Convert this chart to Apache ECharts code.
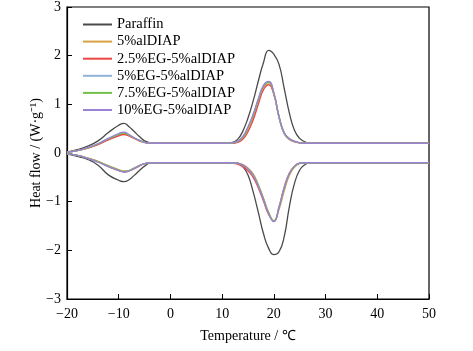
<!DOCTYPE html>
<html lang="en">
<head>
    <meta charset="UTF-8">
    <title>DSC curves</title>
    <script src="https://cdn.jsdelivr.net/npm/echarts@6/dist/echarts.min.js"></script>
    <style>
        html, body { margin: 0; padding: 0; background: #fff; }
    </style>
</head>
<body>
    <div id="main" style="width: 473px;height:351px;"></div>
    <script type="text/javascript">
        var myChart = echarts.init(document.getElementById('main'));

        // temperature points (℃), shared by every curve
        var temps = [-20, -18, -16, -14, -12, -10, -9, -8, -7, -6, -5, -4, -3, 0, 5, 10, 12, 13, 14, 15, 16, 17, 18, 19, 20, 21, 22, 23, 24, 25, 26, 27, 28, 30, 40, 50];

        var names = ['Paraffin', '5%alDIAP', '2.5%EG-5%alDIAP', '5%EG-5%alDIAP', '7.5%EG-5%alDIAP', '10%EG-5%alDIAP'];
        var colors = ['#4a4a4a', '#d9a040', '#ec4545', '#8fb4d8', '#74c04c', '#9b82d4'];

        // heating (upper) curves
        var heatParaffin = [0.02, 0.07, 0.14, 0.25, 0.42, 0.57, 0.61, 0.54, 0.44, 0.34, 0.25, 0.21, 0.2, 0.2, 0.2, 0.2, 0.22, 0.28, 0.45, 0.72, 1.07, 1.48, 1.86, 2.11, 2.03, 1.82, 1.33, 0.82, 0.46, 0.3, 0.23, 0.2, 0.2, 0.2, 0.2, 0.2];
        var heat5al = [0.02, 0.05, 0.1, 0.18, 0.28, 0.36, 0.39, 0.35, 0.3, 0.25, 0.22, 0.2, 0.2, 0.2, 0.2, 0.2, 0.21, 0.23, 0.31, 0.5, 0.74, 1.06, 1.35, 1.42, 1.2, 0.74, 0.41, 0.29, 0.24, 0.21, 0.2, 0.2, 0.2, 0.2, 0.2, 0.2];
        var heat25EG = [0.02, 0.05, 0.1, 0.17, 0.27, 0.35, 0.38, 0.35, 0.3, 0.25, 0.22, 0.2, 0.2, 0.2, 0.2, 0.2, 0.2, 0.22, 0.28, 0.44, 0.68, 1.0, 1.3, 1.4, 1.2, 0.73, 0.4, 0.28, 0.23, 0.21, 0.2, 0.2, 0.2, 0.2, 0.2, 0.2];
        var heat5EG = [0.02, 0.05, 0.11, 0.19, 0.3, 0.39, 0.42, 0.37, 0.31, 0.26, 0.22, 0.2, 0.2, 0.2, 0.2, 0.2, 0.21, 0.24, 0.33, 0.53, 0.78, 1.1, 1.38, 1.46, 1.22, 0.73, 0.39, 0.29, 0.24, 0.21, 0.2, 0.2, 0.2, 0.2, 0.2, 0.2];
        var heat75EG = [0.02, 0.05, 0.11, 0.19, 0.29, 0.38, 0.41, 0.37, 0.31, 0.26, 0.22, 0.2, 0.2, 0.2, 0.2, 0.2, 0.21, 0.24, 0.32, 0.52, 0.77, 1.09, 1.37, 1.45, 1.23, 0.75, 0.41, 0.29, 0.24, 0.21, 0.2, 0.2, 0.2, 0.2, 0.2, 0.2];
        var heat10EG = [0.02, 0.05, 0.11, 0.19, 0.3, 0.4, 0.43, 0.38, 0.31, 0.26, 0.22, 0.2, 0.2, 0.2, 0.2, 0.2, 0.21, 0.24, 0.34, 0.54, 0.8, 1.12, 1.39, 1.47, 1.24, 0.76, 0.42, 0.3, 0.24, 0.21, 0.2, 0.2, 0.2, 0.2, 0.2, 0.2];

        // cooling (lower) curves
        var coolParaffin = [-0.02, -0.07, -0.13, -0.25, -0.45, -0.56, -0.59, -0.55, -0.46, -0.36, -0.27, -0.21, -0.2, -0.2, -0.2, -0.2, -0.2, -0.21, -0.28, -0.45, -0.8, -1.22, -1.66, -1.96, -2.09, -2.03, -1.72, -1.1, -0.62, -0.35, -0.24, -0.2, -0.2, -0.2, -0.2, -0.2];
        var cool5al = [-0.02, -0.05, -0.1, -0.17, -0.26, -0.34, -0.37, -0.36, -0.31, -0.26, -0.22, -0.2, -0.2, -0.2, -0.2, -0.2, -0.2, -0.21, -0.24, -0.31, -0.43, -0.65, -0.93, -1.22, -1.39, -1.16, -0.78, -0.46, -0.29, -0.22, -0.2, -0.2, -0.2, -0.2, -0.2, -0.2];
        var cool25EG = [-0.02, -0.05, -0.11, -0.18, -0.28, -0.36, -0.39, -0.37, -0.32, -0.27, -0.22, -0.2, -0.2, -0.2, -0.2, -0.2, -0.21, -0.23, -0.28, -0.37, -0.5, -0.72, -0.99, -1.27, -1.4, -1.1, -0.7, -0.41, -0.27, -0.21, -0.2, -0.2, -0.2, -0.2, -0.2, -0.2];
        var cool5EG = [-0.02, -0.05, -0.11, -0.18, -0.27, -0.35, -0.38, -0.36, -0.31, -0.26, -0.22, -0.2, -0.2, -0.2, -0.2, -0.2, -0.2, -0.21, -0.25, -0.33, -0.45, -0.68, -0.95, -1.24, -1.41, -1.12, -0.72, -0.42, -0.27, -0.21, -0.2, -0.2, -0.2, -0.2, -0.2, -0.2];
        var cool75EG = [-0.02, -0.05, -0.11, -0.18, -0.27, -0.35, -0.38, -0.36, -0.31, -0.26, -0.22, -0.2, -0.2, -0.2, -0.2, -0.2, -0.2, -0.21, -0.25, -0.33, -0.45, -0.67, -0.94, -1.23, -1.4, -1.13, -0.73, -0.43, -0.28, -0.21, -0.2, -0.2, -0.2, -0.2, -0.2, -0.2];
        var cool10EG = [-0.02, -0.05, -0.11, -0.19, -0.28, -0.36, -0.39, -0.37, -0.32, -0.26, -0.22, -0.2, -0.2, -0.2, -0.2, -0.2, -0.2, -0.21, -0.25, -0.33, -0.46, -0.69, -0.96, -1.25, -1.41, -1.12, -0.72, -0.42, -0.27, -0.21, -0.2, -0.2, -0.2, -0.2, -0.2, -0.2];

        var heating = [heatParaffin, heat5al, heat25EG, heat5EG, heat75EG, heat10EG];
        var cooling = [coolParaffin, cool5al, cool25EG, cool5EG, cool75EG, cool10EG];

        function pairs(ys) {
            var list = [];
            for (var i = 0; i < temps.length; i++) {
                list.push([temps[i], ys[i]]);
            }
            return list;
        }

        var font = '"Liberation Serif", "Times New Roman", serif';
        var series = [];
        for (var k = 0; k < names.length; k++) {
            [heating[k], cooling[k]].forEach(function (ys) {
                series.push({
                    name: names[k],
                    type: 'line',
                    data: pairs(ys),
                    smooth: 0.5,
                    showSymbol: false,
                    silent: true,
                    lineStyle: { color: colors[k], width: 1.3 },
                    itemStyle: { color: colors[k] }
                });
            });
        }

        function minus(v) {
            return String(v).replace('-', '\u2212');
        }

        option = {
            animation: false,
            grid: {
                left: 67,
                right: 44,
                top: 7,
                bottom: 52,
                show: true,
                borderColor: '#000',
                borderWidth: 1.2
            },
            legend: {
                orient: 'vertical',
                left: 78,
                top: 12,
                icon: 'rect',
                itemWidth: 29,
                itemHeight: 2,
                itemGap: 2.1,
                data: names,
                textStyle: { fontFamily: font, fontSize: 14.5, color: '#000' }
            },
            xAxis: {
                type: 'value',
                min: -20,
                max: 50,
                interval: 10,
                name: 'Temperature / \u2103',
                nameLocation: 'middle',
                nameGap: 30,
                nameMoveOverlap: false,
                nameTextStyle: { fontFamily: font, fontSize: 14, color: '#000' },
                splitLine: { show: false },
                axisLine: { onZero: false, lineStyle: { color: '#000', width: 1.2 } },
                axisTick: { inside: true, length: 5, lineStyle: { color: '#000' } },
                axisLabel: { fontFamily: font, fontSize: 14, color: '#000', margin: 8, formatter: minus }
            },
            yAxis: {
                type: 'value',
                min: -3,
                max: 3,
                interval: 1,
                name: 'Heat flow / (W\u00b7g\u207b\u00b9)',
                nameLocation: 'middle',
                nameGap: 24,
                nameMoveOverlap: false,
                nameTextStyle: { fontFamily: font, fontSize: 14, color: '#000' },
                splitLine: { show: false },
                axisLine: { onZero: false, lineStyle: { color: '#000', width: 1.2 } },
                axisTick: { inside: true, length: 5, lineStyle: { color: '#000' } },
                axisLabel: { fontFamily: font, fontSize: 14, color: '#000', margin: 6, formatter: minus }
            },
            series: series
        };

        myChart.setOption(option);
    </script>
</body>
</html>
